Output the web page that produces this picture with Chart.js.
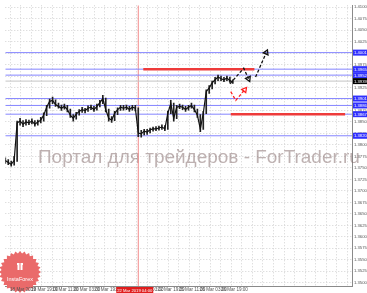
<!DOCTYPE html>
<html>
<head>
<meta charset="utf-8">
<script src="https://cdn.jsdelivr.net/npm/chart.js@4"></script>
<style>
  html, body { margin: 0; padding: 0; background: #fff; }
</style>
</head>
<body>
<canvas id="myChart" width="367" height="293"></canvas>
<script>
// Data (bar index on x, price on y)
let closes = [
  1.3766, 1.3762, 1.3758, 1.3766, 1.3848, 1.3852, 1.3845, 1.3850, 1.3848, 1.3852,
  1.3845, 1.3850, 1.3854, 1.3865, 1.3882, 1.3895, 1.3897, 1.3888, 1.3884, 1.3880,
  1.3884, 1.3877, 1.3865, 1.3858, 1.3867, 1.3873, 1.3877, 1.3875, 1.3880, 1.3882,
  1.3877, 1.3884, 1.3892, 1.3901, 1.3877, 1.3858, 1.3854, 1.3869, 1.3877, 1.3882,
  1.3880, 1.3882, 1.3877, 1.3882, 1.3880, 1.3826, 1.3824, 1.3830, 1.3828, 1.3833,
  1.3835, 1.3835, 1.3837, 1.3839, 1.3835, 1.3869, 1.3890, 1.3858, 1.3882, 1.3884,
  1.3882, 1.3877, 1.3882, 1.3886, 1.3877, 1.3865, 1.3835, 1.3869, 1.3916, 1.3924,
  1.3935, 1.3942, 1.3948, 1.3944, 1.3942, 1.3946, 1.3940, 1.3937
];
let highs = [
  1.3772, 1.3768, 1.3765, 1.3775, 1.3852, 1.3858, 1.3853, 1.3855, 1.3854, 1.3857,
  1.3853, 1.3854, 1.3860, 1.3870, 1.3886, 1.3900, 1.3904, 1.3898, 1.3891, 1.3887,
  1.3889, 1.3886, 1.3878, 1.3866, 1.3871, 1.3877, 1.3882, 1.3880, 1.3885, 1.3887,
  1.3884, 1.3889, 1.3897, 1.3908, 1.3902, 1.3878, 1.3862, 1.3873, 1.3881, 1.3886,
  1.3886, 1.3887, 1.3884, 1.3886, 1.3886, 1.3881, 1.3832, 1.3834, 1.3834, 1.3837,
  1.3839, 1.3840, 1.3841, 1.3844, 1.3842, 1.3874, 1.3897, 1.3891, 1.3886, 1.3889,
  1.3887, 1.3884, 1.3886, 1.3891, 1.3887, 1.3878, 1.3866, 1.3873, 1.3920, 1.3929,
  1.3939, 1.3947, 1.3952, 1.3950, 1.3947, 1.3950, 1.3948, 1.3942
];
let lows = [
  1.3760, 1.3757, 1.3754, 1.3756, 1.3764, 1.3843, 1.3840, 1.3843, 1.3844, 1.3846,
  1.3841, 1.3843, 1.3848, 1.3852, 1.3864, 1.3880, 1.3890, 1.3884, 1.3880, 1.3875,
  1.3878, 1.3872, 1.3860, 1.3852, 1.3856, 1.3865, 1.3871, 1.3870, 1.3873, 1.3877,
  1.3873, 1.3876, 1.3883, 1.3890, 1.3872, 1.3852, 1.3849, 1.3853, 1.3866, 1.3875,
  1.3876, 1.3877, 1.3873, 1.3876, 1.3874, 1.3818, 1.3817, 1.3822, 1.3823, 1.3826,
  1.3830, 1.3831, 1.3832, 1.3834, 1.3831, 1.3834, 1.3868, 1.3852, 1.3857, 1.3879,
  1.3877, 1.3873, 1.3876, 1.3880, 1.3872, 1.3860, 1.3829, 1.3834, 1.3868, 1.3912,
  1.3922, 1.3933, 1.3940, 1.3940, 1.3938, 1.3940, 1.3936, 1.3934
];

let blueLevels = [1.4001, 1.3965, 1.3952, 1.3901, 1.3886, 1.3867, 1.3820];
let currentPrice = 1.3939;
let redLevelValue = [1.3965, 1.3867];
let redLevelStart = [46.7, 76.3];
let redLevelEnd = [84.3, 115];
let cursorBar = 45;
let cursorLabel = '22 Mar 2019 04:00';

// forecast arrows
let blackArrow1X = [76, 80.7, 82.3];
let blackArrow1Y = [1.3933, 1.3967, 1.3944];
let blackArrow2X = [84.7, 88.3];
let blackArrow2Y = [1.3948, 1.4001];
let redArrowX = [76.3, 78, 81];
let redArrowY = [1.3916, 1.3897, 1.3920];

let yTicks = [
  1.4100, 1.4075, 1.4050, 1.4025, 1.4000, 1.3975, 1.3950, 1.3925, 1.3900,
  1.3875, 1.3850, 1.3825, 1.3800, 1.3775, 1.3750, 1.3725, 1.3700, 1.3675,
  1.3650, 1.3625, 1.3600, 1.3575, 1.3550, 1.3525, 1.3500
];
let timeLabels = [
  '18 Mar 2019', '18 Mar 19:00', '19 Mar 11:00', '20 Mar 03:00', '20 Mar 19:00',
  '21 Mar 11:00', '22 Mar 03:00', '22 Mar 19:00', '25 Mar 11:00', '26 Mar 03:00',
  '26 Mar 19:00'
];
let watermark = 'Портал для трейдеров - ForTrader.ru';

let xMax = 117.33;
let yMin = 1.3493;
let yMax = 1.4104;
let xGridStart = 1.6;
let xGridStep = 3.567;

function pts(xs, ys) {
  let out = [];
  for (let i = 0; i < xs.length; i++) {
    out.push({ x: xs[i], y: ys[i] });
  }
  return out;
}

function arrowSet(xs, ys, color, rot) {
  return {
    data: pts(xs, ys),
    borderColor: color,
    borderWidth: 1.3,
    borderDash: [3, 2],
    pointStyle: 'triangle',
    pointRadius: (c) => c.dataIndex === xs.length - 1 ? 3 : 0,
    pointRotation: rot,
    pointBorderColor: color,
    pointBackgroundColor: 'rgba(0,0,0,0)',
    pointBorderWidth: 1.3
  };
}

let datasets = [];
datasets.push({
  data: closes.map((v, i) => ({ x: i, y: v })),
  borderColor: '#111',
  borderWidth: 1.2,
  pointRadius: 0
});
datasets.push({
  type: 'bar',
  data: lows.map((v, i) => ({ x: i, y: [v, highs[i]] })),
  backgroundColor: '#222',
  barThickness: 1,
  grouped: false
});
datasets.push(arrowSet(blackArrow1X, blackArrow1Y, '#111', 156));
datasets.push(arrowSet(blackArrow2X, blackArrow2Y, '#111', 24));
datasets.push(arrowSet(redArrowX, redArrowY, '#ff2020', 39));
for (let i = 0; i < redLevelValue.length; i++) {
  datasets.push({
    data: [{ x: redLevelStart[i], y: redLevelValue[i] }, { x: redLevelEnd[i], y: redLevelValue[i] }],
    borderColor: '#ee3b3b',
    borderWidth: 2.5,
    pointRadius: 0
  });
}
for (let i = 0; i < blueLevels.length; i++) {
  datasets.push({
    data: [{ x: 0, y: blueLevels[i] }, { x: xMax, y: blueLevels[i] }],
    borderColor: '#8585ff',
    borderWidth: 1,
    pointRadius: 0
  });
}
datasets.push({
  data: [{ x: 0, y: currentPrice }, { x: xMax, y: currentPrice }],
  borderColor: '#c4c4c4',
  borderWidth: 1,
  pointRadius: 0
});
datasets.push({
  data: [{ x: cursorBar, y: yMin }, { x: cursorBar, y: yMax }],
  borderColor: '#f28a8a',
  borderWidth: 1,
  pointRadius: 0
});

function drawLogo(ctx) {
  let cx = 20, cy = 272, spikes = 28;
  ctx.beginPath();
  for (let i = 0; i < spikes * 2; i++) {
    let r = i % 2 === 0 ? 21 : 18.5;
    let a = Math.PI * i / spikes;
    ctx.lineTo(cx + r * Math.cos(a), cy + r * Math.sin(a));
  }
  ctx.closePath();
  ctx.fillStyle = '#ea6a6a';
  ctx.fill();
  ctx.fillStyle = '#fff';
  ctx.fillRect(cx - 3, cy - 9, 6, 2);
  ctx.fillRect(cx - 2.5, cy - 7, 5, 5);
  ctx.fillStyle = '#ea6a6a';
  ctx.fillRect(cx - 0.5, cy - 9, 1, 7);
  ctx.fillStyle = '#fff';
  ctx.font = '5.5px "Liberation Sans"';
  ctx.textAlign = 'center';
  ctx.textBaseline = 'middle';
  ctx.fillText('InstaForex', cx, cy + 7);
}

const decor = {
  id: 'decor',
  beforeDatasetsDraw(chart) {
    let ctx = chart.ctx;
    ctx.save();
    ctx.font = '20px "Liberation Sans"';
    let w = ctx.measureText(watermark).width;
    let size = 20 * 322 / w;
    ctx.font = size + 'px "Liberation Sans"';
    ctx.fillStyle = 'rgba(125,100,100,0.5)';
    ctx.textAlign = 'left';
    ctx.textBaseline = 'middle';
    ctx.fillText(watermark, 38, 158);
    drawLogo(ctx);
    ctx.restore();
  },
  afterDraw(chart) {
    let ctx = chart.ctx;
    let ys = chart.scales.y;
    let xs = chart.scales.x;
    let a = chart.chartArea;
    ctx.save();
    ctx.font = '4.2px "Liberation Sans"';
    ctx.textBaseline = 'middle';
    ctx.textAlign = 'left';
    function box(v, bg) {
      let py = ys.getPixelForValue(v);
      ctx.fillStyle = bg;
      ctx.fillRect(a.right + 1, py - 3, 15, 6);
      ctx.fillStyle = '#fff';
      ctx.fillText(v.toFixed(4), a.right + 2, py + 0.3);
    }
    blueLevels.forEach(v => box(v, '#3030ff'));
    box(currentPrice, '#000');
    let px = xs.getPixelForValue(cursorBar);
    ctx.fillStyle = '#e01e1e';
    ctx.fillRect(px - 22, a.bottom + 1, 37, 6.5);
    ctx.fillStyle = '#fff';
    ctx.textAlign = 'center';
    ctx.fillText(cursorLabel, px - 3.5, a.bottom + 4.5);
    ctx.restore();
  }
};

let ctx = document.getElementById('myChart').getContext('2d');
let myChart = new Chart(ctx, {
  type: 'line',
  data: { datasets: datasets },
  options: {
    responsive: false,
    animation: false,
    layout: { padding: 0 },
    elements: { line: { tension: 0 } },
    plugins: { legend: { display: false }, tooltip: { enabled: false } },
    scales: {
      x: {
        type: 'linear',
        min: 0,
        max: xMax,
        offset: false,
        grid: { color: '#d2d2d2', drawTicks: false, tickLength: 0, offset: false },
        border: { display: true, color: '#8a8a8a', dash: [1, 2] },
        afterBuildTicks: (s) => {
          let t = [];
          for (let v = xGridStart; v < xMax; v += xGridStep) t.push({ value: v });
          s.ticks = t;
        },
        afterFit: (s) => { s.height = 7; },
        ticks: {
          z: 1,
          align: 'start',
          autoSkip: false,
          maxRotation: 0,
          padding: 1,
          color: '#555',
          font: { size: 4.6, family: 'Liberation Sans' },
          callback: (v, i) => (i % 2 === 0 && timeLabels[i / 2]) ? timeLabels[i / 2] : ''
        }
      },
      y: {
        position: 'right',
        min: yMin,
        max: yMax,
        grid: { color: '#d2d2d2', drawTicks: false, tickLength: 0 },
        border: { display: true, color: '#8a8a8a', dash: [1, 2] },
        afterBuildTicks: (s) => { s.ticks = yTicks.map(v => ({ value: v })); },
        afterFit: (s) => { s.width = 15; },
        ticks: {
          padding: 2,
          color: '#555',
          font: { size: 4.2, family: 'Liberation Sans' },
          callback: (v) => v.toFixed(4)
        }
      }
    }
  },
  plugins: [decor]
});
</script>
</body>
</html>
